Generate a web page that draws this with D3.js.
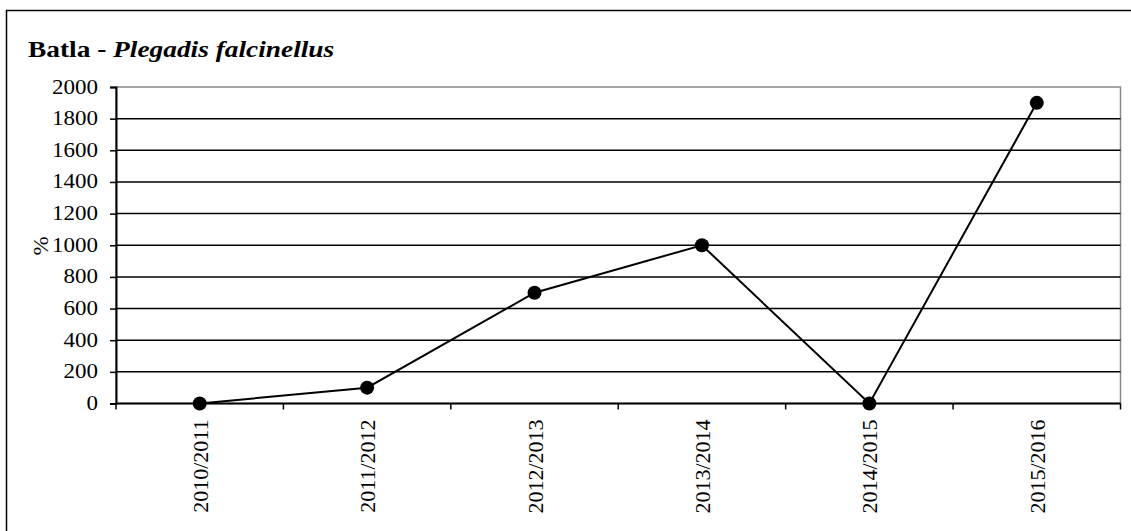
<!DOCTYPE html>
<html><head><meta charset="utf-8">
<script src="https://cdn.jsdelivr.net/npm/d3@7"></script>
<style>body{margin:0;background:#fff}svg{display:block}</style>
</head><body>
<script>
const categories = ["2010/2011","2011/2012","2012/2013","2013/2014","2014/2015","2015/2016"];
const values = [0, 100, 700, 1000, 0, 1900];
const yTicks = [0,200,400,600,800,1000,1200,1400,1600,1800,2000];

const W = 1131, H = 531;
const svg = d3.select("body").append("svg").attr("width", W).attr("height", H);
const font = "'Liberation Serif', 'Times New Roman', serif";
const SX = 1.15;

svg.append("rect").attr("x",6.5).attr("y",10.5).attr("width",W+10).attr("height",H+10)
  .attr("fill","none").attr("stroke","#000").attr("stroke-width",1.5);

const L = 116, R = 1120.5, T = 87, B = 403.5;
const x = d3.scaleBand().domain(categories).range([L, R]);
const y = d3.scaleLinear().domain([0, 2000]).range([B, T]);

svg.append("rect").attr("x",L).attr("y",T).attr("width",R-L).attr("height",B-T)
  .attr("fill","none").attr("stroke","#888").attr("stroke-width",1.5);

svg.append("g").selectAll("line").data(yTicks.filter(d=>d>0 && d<2000)).join("line")
  .attr("x1",L).attr("x2",R).attr("y1",d=>y(d)).attr("y2",d=>y(d))
  .attr("stroke","#000").attr("stroke-width",1.5);

// y axis
const ya = svg.append("g").attr("transform",`translate(${L},0)`)
  .call(d3.axisLeft(y).tickValues(yTicks).tickSize(6).tickFormat(""));
ya.select(".domain").attr("stroke","#000").attr("stroke-width",2);
ya.selectAll(".tick line").attr("stroke","#000").attr("stroke-width",1.5);
svg.append("g").selectAll("text").data(yTicks).join("text")
  .attr("transform",d=>`translate(98,${y(d)+6.5}) scale(${SX},1)`)
  .attr("text-anchor","end").attr("font-family",font).attr("font-size",20).attr("fill","#000")
  .text(d3.format("d"));

// x axis
const xa = svg.append("g").attr("transform",`translate(0,${B})`);
xa.append("line").attr("x1",L).attr("x2",R).attr("y1",0).attr("y2",0).attr("stroke","#000").attr("stroke-width",2);
const bounds = categories.map(c=>x(c)).concat([R]);
xa.selectAll(".tk").data(bounds).join("line").attr("class","tk")
  .attr("x1",d=>d).attr("x2",d=>d).attr("y1",0).attr("y2",6).attr("stroke","#000").attr("stroke-width",1.5);
xa.selectAll(".lbl").data(categories).join("text").attr("class","lbl")
  .attr("transform",d=>`translate(${x(d)+x.bandwidth()/2+8},16) rotate(-90) scale(1.1,1)`)
  .attr("text-anchor","end").attr("font-family",font).attr("font-size",20).attr("fill","#000")
  .text(d=>d);

// line
const line = d3.line().x((d,i)=>x(categories[i])+x.bandwidth()/2).y(d=>y(d));
svg.append("path").datum(values).attr("d",line).attr("fill","none").attr("stroke","#000").attr("stroke-width",2);
svg.append("g").selectAll("circle").data(values).join("circle")
  .attr("cx",(d,i)=>x(categories[i])+x.bandwidth()/2).attr("cy",d=>y(d)).attr("r",7).attr("fill","#000");

// y label
svg.append("text").attr("transform",`translate(48,246) rotate(-90) scale(${SX},1)`).attr("text-anchor","middle")
  .attr("font-family",font).attr("font-size",20).text("%");

// title
const t = svg.append("text").attr("transform",`translate(28,57) scale(1.19,1)`)
  .attr("font-family",font).attr("font-size",23).attr("font-weight","bold");
t.append("tspan").text("Batla - ");
t.append("tspan").attr("font-style","italic").text("Plegadis falcinellus");
</script>
</body></html>
